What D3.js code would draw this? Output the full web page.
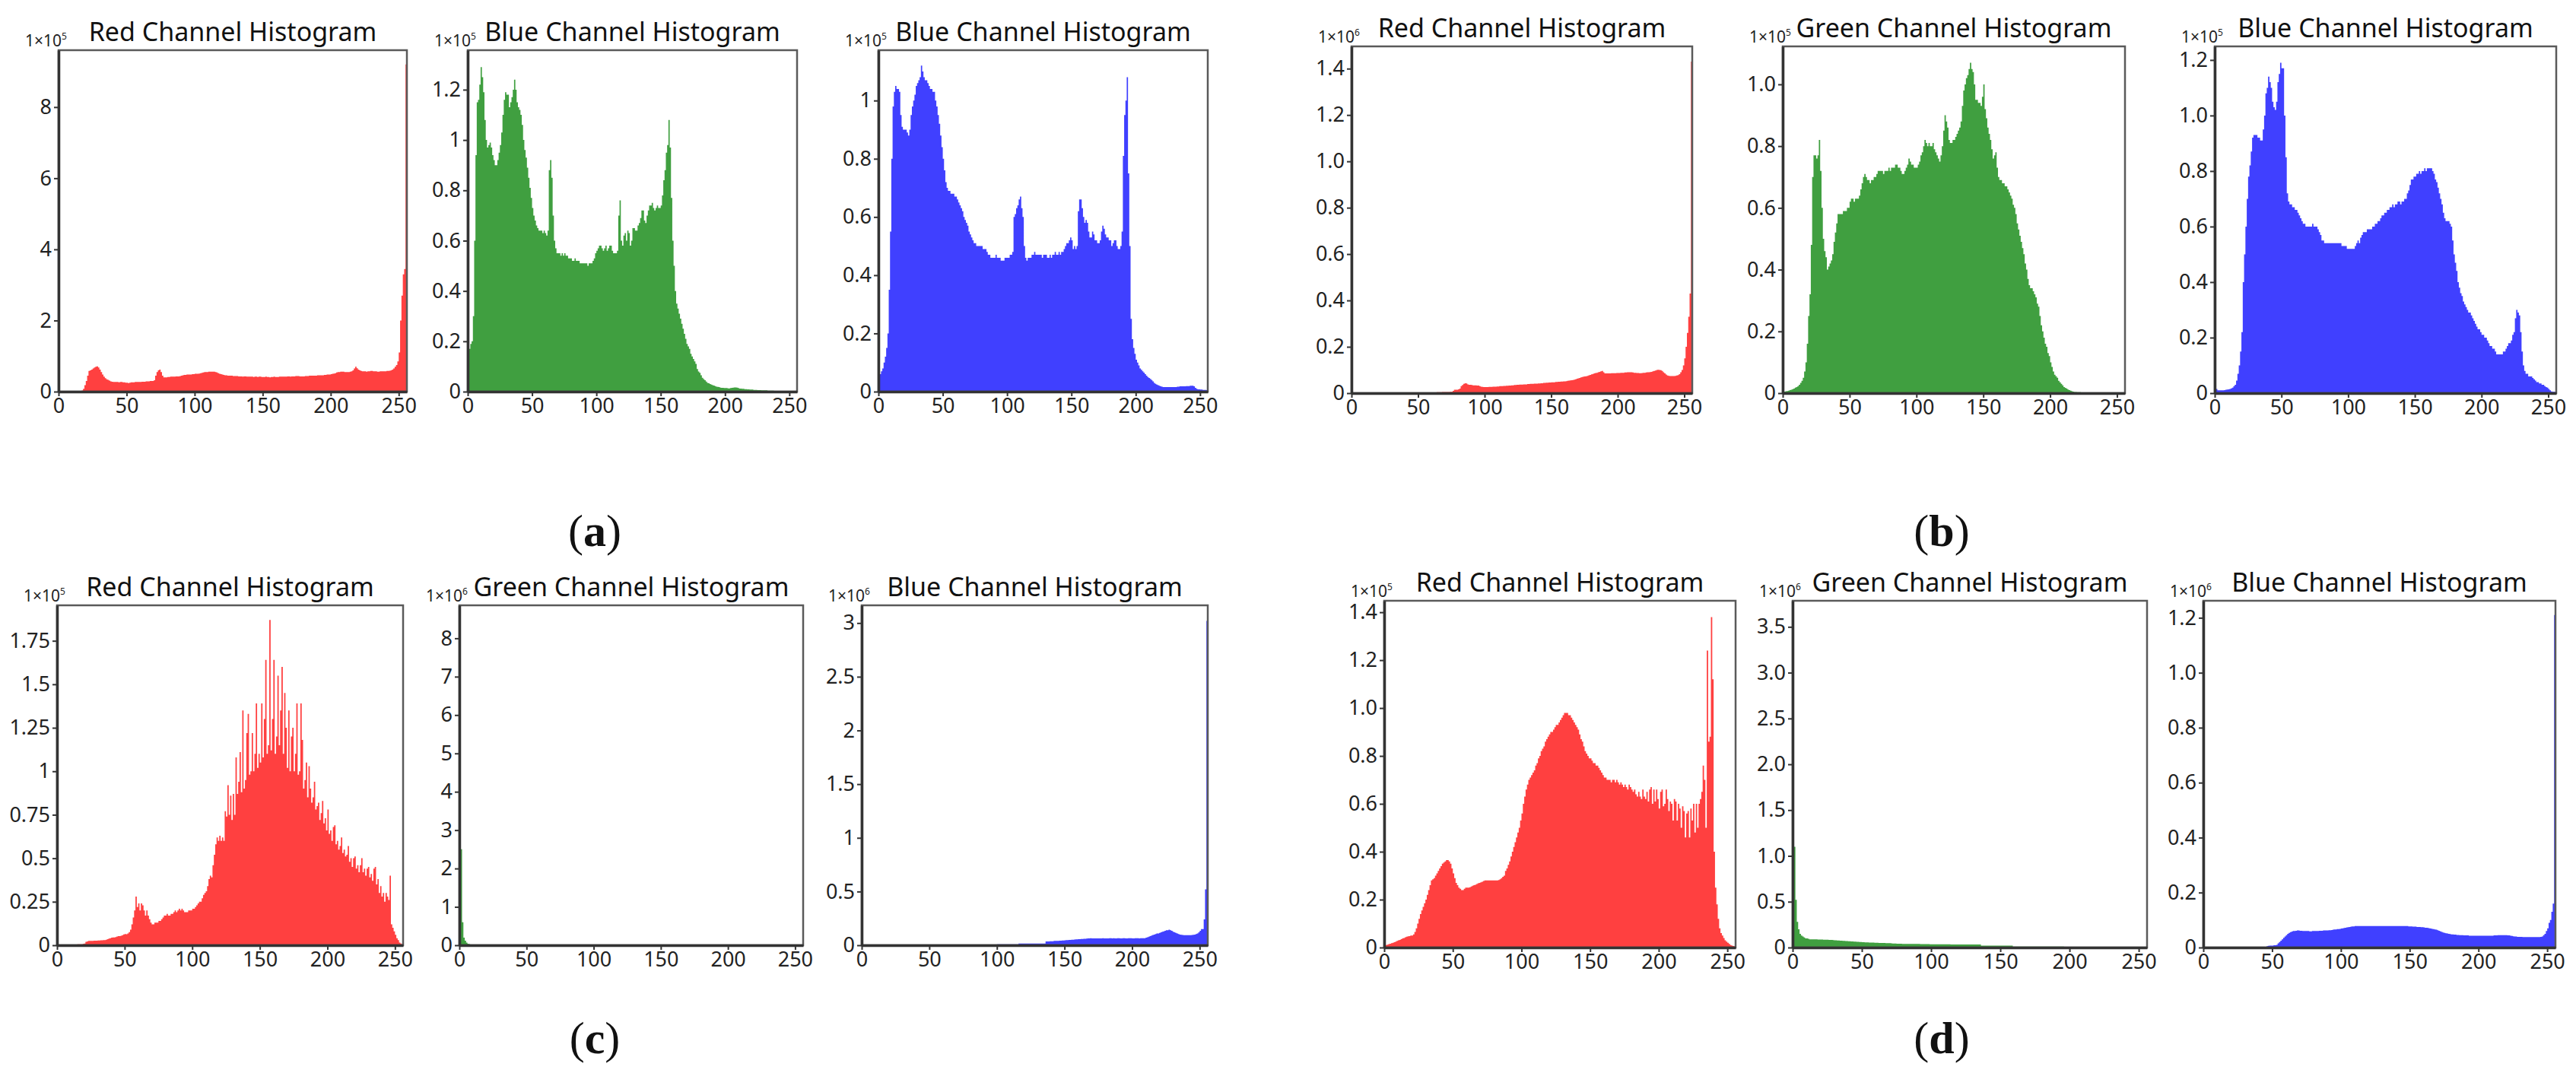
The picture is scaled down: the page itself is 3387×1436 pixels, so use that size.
<!DOCTYPE html>
<html><head><meta charset="utf-8">
<script src="https://cdn.jsdelivr.net/npm/d3@7"></script>
<style>html,body{margin:0;padding:0;background:#fff}</style>
</head><body><svg id="fig" width="3387" height="1436"></svg>
<script>
// ---------- DATA (values in units of each panel's multiplier) ----------
const levels = d3.range(256);
const xTickValues = [0, 50, 100, 150, 200, 250];
const panelTitles = ["Red Channel Histogram","Blue Channel Histogram","Blue Channel Histogram",
  "Red Channel Histogram","Green Channel Histogram","Blue Channel Histogram",
  "Red Channel Histogram","Green Channel Histogram","Blue Channel Histogram",
  "Red Channel Histogram","Green Channel Histogram","Blue Channel Histogram"];
const panelExponents = ["5","5","5","6","5","5","5","6","6","5","6","6"];
const panelChannel = ["red","green","blue","red","green","blue","red","green","blue","red","green","blue"];
const subLabels = ["a","b","c","d"];
const yTickValues = [
  [0,2,4,6,8],
  [0,0.2,0.4,0.6,0.8,1,1.2],
  [0,0.2,0.4,0.6,0.8,1],
  [0,0.2,0.4,0.6,0.8,1.0,1.2,1.4],
  [0,0.2,0.4,0.6,0.8,1.0],
  [0,0.2,0.4,0.6,0.8,1.0,1.2],
  [0,0.25,0.5,0.75,1,1.25,1.5,1.75],
  [0,1,2,3,4,5,6,7,8],
  [0,0.5,1,1.5,2,2.5,3],
  [0,0.2,0.4,0.6,0.8,1.0,1.2,1.4],
  [0,0.5,1.0,1.5,2.0,2.5,3.0,3.5],
  [0,0.2,0.4,0.6,0.8,1.0,1.2]];
const yTickLabels = [
  ["0","2","4","6","8"],
  ["0","0.2","0.4","0.6","0.8","1","1.2"],
  ["0","0.2","0.4","0.6","0.8","1"],
  ["0","0.2","0.4","0.6","0.8","1.0","1.2","1.4"],
  ["0","0.2","0.4","0.6","0.8","1.0"],
  ["0","0.2","0.4","0.6","0.8","1.0","1.2"],
  ["0","0.25","0.5","0.75","1","1.25","1.5","1.75"],
  ["0","1","2","3","4","5","6","7","8"],
  ["0","0.5","1","1.5","2","2.5","3"],
  ["0","0.2","0.4","0.6","0.8","1.0","1.2","1.4"],
  ["0","0.5","1.0","1.5","2.0","2.5","3.0","3.5"],
  ["0","0.2","0.4","0.6","0.8","1.0","1.2"]];
const yDomainMax = [9.6,1.357,1.173,1.496,1.123,1.249,1.954,8.86,3.165,1.448,3.785,1.262];

const aRed = [
0,0,0,0,0,0,0,0,0,0,0,0,0,0,0,0,
0,0.03,0.08,0.18,0.3,0.45,0.58,0.6,0.62,0.65,0.68,0.7,0.71,0.68,0.62,0.55,
0.48,0.42,0.38,0.35,0.33,0.31,0.29,0.28,0.27,0.27,0.27,0.27,0.26,0.27,0.27,0.26,
0.26,0.25,0.25,0.24,0.25,0.26,0.26,0.26,0.27,0.27,0.27,0.27,0.27,0.28,0.28,0.28,
0.29,0.29,0.29,0.3,0.3,0.3,0.32,0.45,0.55,0.6,0.62,0.55,0.45,0.4,0.4,0.4,
0.41,0.41,0.42,0.42,0.42,0.42,0.43,0.43,0.43,0.44,0.45,0.46,0.47,0.47,0.48,0.48,
0.48,0.48,0.49,0.49,0.5,0.5,0.5,0.51,0.52,0.53,0.54,0.55,0.55,0.55,0.56,0.56,
0.56,0.56,0.56,0.55,0.54,0.52,0.5,0.49,0.48,0.47,0.46,0.46,0.45,0.45,0.45,0.45,
0.44,0.44,0.44,0.44,0.43,0.43,0.43,0.42,0.43,0.43,0.42,0.42,0.42,0.42,0.42,0.41,
0.42,0.42,0.41,0.42,0.42,0.41,0.41,0.41,0.42,0.41,0.41,0.4,0.41,0.41,0.42,0.41,
0.41,0.41,0.42,0.42,0.42,0.42,0.42,0.42,0.43,0.43,0.42,0.43,0.43,0.43,0.44,0.44,
0.44,0.43,0.43,0.43,0.43,0.44,0.44,0.44,0.45,0.45,0.45,0.45,0.45,0.45,0.46,0.46,
0.46,0.46,0.46,0.47,0.47,0.48,0.48,0.48,0.49,0.5,0.51,0.52,0.54,0.55,0.55,0.56,
0.56,0.56,0.55,0.55,0.55,0.55,0.56,0.57,0.6,0.65,0.7,0.66,0.62,0.6,0.58,0.57,
0.57,0.57,0.56,0.57,0.57,0.58,0.58,0.57,0.57,0.57,0.56,0.56,0.57,0.57,0.57,0.57,
0.57,0.58,0.58,0.59,0.6,0.62,0.65,0.7,0.75,0.85,1.1,2.0,2.7,3.3,3.45,9.2];

const aGreen = [
0.15,0.17,0.19,0.2,0.3,0.6,0.94,1.15,1.16,1.22,1.29,1.25,1.19,1.08,1.0,0.97,
0.98,0.99,0.97,0.94,0.92,0.9,0.9,0.92,0.95,0.98,1.03,1.1,1.16,1.19,1.18,1.18,
1.13,1.15,1.17,1.2,1.24,1.2,1.15,1.13,1.12,1.1,1.06,1.0,0.96,0.93,0.89,0.85,
0.81,0.77,0.73,0.7,0.68,0.66,0.65,0.64,0.64,0.64,0.63,0.64,0.63,0.62,0.64,0.88,
0.92,0.85,0.7,0.6,0.57,0.55,0.55,0.55,0.54,0.55,0.54,0.55,0.54,0.54,0.53,0.53,
0.53,0.52,0.52,0.53,0.52,0.52,0.52,0.51,0.51,0.51,0.51,0.51,0.51,0.5,0.51,0.51,
0.51,0.52,0.53,0.55,0.56,0.57,0.58,0.58,0.57,0.56,0.57,0.58,0.56,0.57,0.58,0.58,
0.56,0.55,0.55,0.55,0.56,0.7,0.76,0.6,0.58,0.62,0.63,0.6,0.64,0.63,0.58,0.6,
0.65,0.65,0.64,0.64,0.66,0.67,0.69,0.72,0.72,0.68,0.67,0.7,0.72,0.74,0.74,0.75,
0.73,0.72,0.73,0.74,0.73,0.73,0.74,0.78,0.84,0.88,0.95,0.98,1.08,0.97,0.77,0.6,
0.5,0.4,0.35,0.33,0.31,0.29,0.27,0.25,0.23,0.21,0.19,0.18,0.17,0.15,0.14,0.13,
0.12,0.11,0.09,0.08,0.075,0.065,0.055,0.05,0.045,0.04,0.035,0.033,0.03,0.028,0.026,0.024,
0.022,0.02,0.019,0.018,0.016,0.015,0.015,0.014,0.014,0.014,0.013,0.013,0.014,0.015,0.016,0.017,
0.017,0.016,0.014,0.012,0.012,0.011,0.011,0.01,0.01,0.009,0.009,0.008,0.008,0.008,0.007,0.007,
0.007,0.006,0.006,0.006,0.005,0.005,0.005,0.005,0.005,0.004,0.004,0.004,0.004,0.004,0.003,0.003,
0.003,0.003,0.003,0.003,0.002,0.002,0.002,0.002,0.002,0.002,0.002,0.002,0.001,0.001,0.001,0.001];

const aBlue = [
0.05,0.06,0.07,0.08,0.1,0.12,0.15,0.2,0.35,0.55,0.8,0.98,1.03,1.05,1.04,1.04,
1.03,0.95,0.91,0.9,0.9,0.9,0.89,0.88,0.9,0.95,0.98,1.0,1.02,1.05,1.06,1.07,
1.08,1.12,1.1,1.08,1.07,1.07,1.06,1.05,1.04,1.04,1.03,1.03,1.0,0.98,0.95,0.92,
0.88,0.84,0.8,0.76,0.72,0.7,0.69,0.69,0.68,0.68,0.68,0.67,0.67,0.66,0.65,0.64,
0.63,0.62,0.6,0.59,0.58,0.57,0.55,0.54,0.53,0.52,0.51,0.51,0.5,0.5,0.5,0.5,
0.5,0.49,0.49,0.49,0.48,0.47,0.47,0.46,0.46,0.46,0.46,0.47,0.46,0.46,0.46,0.45,
0.45,0.45,0.46,0.46,0.46,0.46,0.47,0.47,0.48,0.6,0.61,0.63,0.64,0.66,0.67,0.63,
0.6,0.5,0.46,0.45,0.46,0.46,0.46,0.47,0.47,0.48,0.47,0.47,0.47,0.47,0.47,0.46,
0.47,0.47,0.47,0.46,0.46,0.47,0.46,0.47,0.47,0.48,0.47,0.47,0.48,0.47,0.48,0.48,
0.49,0.5,0.51,0.51,0.52,0.53,0.52,0.49,0.5,0.49,0.5,0.62,0.66,0.66,0.63,0.6,
0.58,0.59,0.58,0.55,0.53,0.53,0.55,0.54,0.52,0.52,0.51,0.51,0.52,0.55,0.57,0.56,
0.54,0.53,0.53,0.52,0.52,0.5,0.51,0.52,0.52,0.5,0.49,0.49,0.5,0.55,0.81,0.95,
1.0,1.08,0.75,0.5,0.25,0.18,0.15,0.13,0.11,0.1,0.09,0.08,0.075,0.07,0.065,0.06,
0.055,0.05,0.047,0.044,0.04,0.035,0.03,0.027,0.024,0.022,0.02,0.018,0.017,0.016,0.016,0.016,
0.016,0.016,0.016,0.016,0.016,0.016,0.016,0.016,0.017,0.017,0.018,0.018,0.018,0.018,0.018,0.019,
0.019,0.019,0.02,0.02,0.02,0.018,0.013,0.01,0.008,0.008,0.007,0.007,0.006,0.006,0.006,0.005];

const bRed = [
0,0,0,0,0,0,0,0,0,0,0,0,0,0,0,0,
0,0,0,0,0,0,0,0,0,0,0,0,0,0,0,0,
0,0,0,0,0,0,0,0,0,0,0,0,0,0,0,0,
0,0,0,0,0,0,0,0,0,0,0,0,0,0,0,0,
0.004,0.004,0.004,0.004,0.005,0.005,0.005,0.005,0.005,0.005,0.006,0.006,0.01,0.015,0.015,0.015,
0.016,0.02,0.03,0.035,0.04,0.043,0.042,0.038,0.036,0.036,0.035,0.034,0.034,0.034,0.033,0.033,
0.03,0.028,0.027,0.026,0.026,0.026,0.026,0.027,0.027,0.027,0.028,0.028,0.028,0.029,0.029,0.03,
0.03,0.03,0.031,0.031,0.032,0.032,0.033,0.033,0.034,0.034,0.035,0.035,0.036,0.036,0.037,0.037,
0.037,0.038,0.038,0.038,0.039,0.039,0.04,0.04,0.04,0.041,0.041,0.041,0.042,0.042,0.043,0.043,
0.044,0.044,0.045,0.045,0.046,0.046,0.047,0.047,0.047,0.048,0.048,0.049,0.049,0.05,0.05,0.051,
0.051,0.052,0.053,0.054,0.055,0.056,0.057,0.058,0.06,0.062,0.064,0.066,0.068,0.07,0.071,0.072,
0.073,0.075,0.077,0.079,0.081,0.083,0.085,0.087,0.088,0.09,0.092,0.094,0.096,0.09,0.085,0.085,
0.085,0.085,0.085,0.086,0.086,0.086,0.086,0.087,0.087,0.087,0.088,0.088,0.088,0.089,0.089,0.09,
0.09,0.09,0.09,0.089,0.088,0.088,0.087,0.087,0.086,0.086,0.087,0.088,0.088,0.089,0.09,0.09,
0.091,0.092,0.094,0.096,0.098,0.1,0.101,0.1,0.099,0.096,0.09,0.085,0.08,0.076,0.075,0.074,
0.074,0.074,0.074,0.075,0.076,0.078,0.082,0.09,0.1,0.12,0.15,0.2,0.26,0.33,0.43,1.43];

const bGreen = [
0.004,0.005,0.006,0.007,0.008,0.01,0.011,0.013,0.015,0.018,0.02,0.023,0.027,0.033,0.04,0.05,
0.07,0.1,0.16,0.25,0.32,0.48,0.7,0.77,0.77,0.76,0.77,0.82,0.72,0.6,0.5,0.46,
0.44,0.4,0.41,0.42,0.43,0.45,0.49,0.52,0.55,0.58,0.58,0.58,0.58,0.59,0.59,0.59,
0.6,0.6,0.62,0.63,0.63,0.62,0.63,0.63,0.63,0.64,0.66,0.68,0.7,0.71,0.7,0.69,
0.69,0.68,0.69,0.69,0.7,0.7,0.71,0.72,0.72,0.72,0.72,0.71,0.72,0.72,0.72,0.73,
0.72,0.73,0.73,0.73,0.74,0.74,0.73,0.73,0.72,0.71,0.71,0.72,0.73,0.74,0.76,0.75,
0.74,0.74,0.73,0.73,0.73,0.74,0.75,0.77,0.78,0.8,0.82,0.81,0.8,0.81,0.8,0.8,
0.81,0.79,0.78,0.77,0.76,0.75,0.77,0.8,0.85,0.9,0.88,0.86,0.82,0.81,0.81,0.82,
0.82,0.83,0.84,0.85,0.86,0.88,0.93,0.98,1.0,1.02,1.03,1.05,1.07,1.05,1.04,1.0,
0.95,0.95,0.94,0.94,0.93,0.96,1.0,0.92,0.89,0.86,0.84,0.82,0.79,0.76,0.77,0.78,
0.73,0.7,0.69,0.69,0.68,0.68,0.67,0.67,0.66,0.65,0.64,0.63,0.61,0.6,0.58,0.55,
0.53,0.51,0.49,0.47,0.45,0.42,0.4,0.37,0.35,0.34,0.34,0.33,0.32,0.31,0.29,0.28,
0.25,0.22,0.2,0.18,0.16,0.15,0.13,0.12,0.1,0.085,0.07,0.06,0.055,0.05,0.04,0.035,
0.03,0.025,0.02,0.017,0.015,0.012,0.01,0.008,0.006,0.005,0.004,0.004,0.003,0.003,0.003,0.002,
0.002,0.002,0.002,0.002,0.002,0.002,0.002,0.002,0.002,0.002,0.002,0.002,0.001,0.001,0.001,0,
0,0,0,0,0,0,0,0,0,0,0,0,0,0,0,0];

const bBlue = [
0.02,0.015,0.01,0.01,0.01,0.01,0.01,0.011,0.012,0.013,0.014,0.015,0.017,0.02,0.025,0.03,
0.045,0.07,0.1,0.15,0.22,0.4,0.5,0.6,0.7,0.78,0.82,0.87,0.92,0.93,0.93,0.93,
0.92,0.92,0.91,0.91,0.95,1.0,1.08,1.1,1.14,1.12,1.1,1.05,1.03,1.02,1.05,1.12,
1.15,1.19,1.17,1.17,1.0,0.85,0.72,0.69,0.68,0.68,0.67,0.67,0.66,0.66,0.65,0.64,
0.63,0.62,0.61,0.61,0.6,0.6,0.6,0.6,0.6,0.61,0.6,0.6,0.6,0.59,0.58,0.57,
0.55,0.55,0.54,0.54,0.54,0.54,0.54,0.54,0.54,0.54,0.54,0.54,0.54,0.54,0.54,0.53,
0.53,0.53,0.53,0.52,0.52,0.52,0.52,0.52,0.52,0.53,0.54,0.55,0.54,0.56,0.57,0.58,
0.58,0.58,0.59,0.59,0.59,0.59,0.6,0.6,0.61,0.61,0.62,0.62,0.63,0.64,0.64,0.65,
0.65,0.66,0.66,0.67,0.67,0.68,0.67,0.68,0.68,0.69,0.69,0.68,0.69,0.69,0.7,0.7,
0.72,0.73,0.75,0.77,0.77,0.78,0.78,0.79,0.79,0.8,0.79,0.8,0.8,0.81,0.8,0.81,
0.81,0.81,0.81,0.8,0.79,0.77,0.76,0.74,0.72,0.7,0.68,0.65,0.63,0.62,0.62,0.62,
0.61,0.6,0.55,0.5,0.47,0.44,0.4,0.38,0.36,0.35,0.33,0.32,0.31,0.3,0.29,0.29,
0.28,0.27,0.26,0.25,0.24,0.23,0.23,0.22,0.21,0.21,0.2,0.2,0.19,0.18,0.17,0.17,
0.16,0.16,0.15,0.14,0.14,0.14,0.14,0.14,0.15,0.15,0.16,0.17,0.18,0.18,0.19,0.21,
0.22,0.27,0.3,0.29,0.28,0.22,0.15,0.1,0.08,0.07,0.07,0.06,0.06,0.06,0.055,0.05,
0.045,0.04,0.04,0.035,0.035,0.03,0.03,0.025,0.022,0.02,0.015,0.01,0.006,0.005,0.005,0.004];

const cRed = [
0,0,0,0,0,0,0,0,0,0,0,0,0,0,0,0.005,
0.005,0.005,0.006,0.008,0.01,0.02,0.022,0.025,0.025,0.025,0.025,0.026,0.026,0.026,0.027,0.027,
0.028,0.028,0.03,0.03,0.032,0.035,0.038,0.04,0.044,0.045,0.045,0.047,0.05,0.052,0.053,0.055,
0.058,0.062,0.065,0.063,0.068,0.075,0.09,0.12,0.16,0.2,0.28,0.22,0.24,0.2,0.24,0.23,
0.2,0.17,0.2,0.17,0.15,0.13,0.12,0.12,0.13,0.13,0.13,0.14,0.14,0.15,0.16,0.17,
0.17,0.18,0.17,0.17,0.18,0.18,0.19,0.2,0.19,0.2,0.21,0.2,0.21,0.2,0.19,0.19,
0.19,0.2,0.2,0.2,0.21,0.21,0.22,0.23,0.24,0.25,0.25,0.27,0.29,0.3,0.31,0.34,
0.38,0.4,0.39,0.46,0.52,0.58,0.62,0.6,0.63,0.6,0.62,0.6,0.77,0.74,0.92,0.75,
0.86,0.72,0.87,0.75,1.08,0.87,0.94,1.11,0.88,1.35,0.9,0.95,1.22,1.33,0.98,1.0,
1.22,1.0,1.1,1.39,1.02,1.1,1.05,1.39,1.08,1.3,1.64,1.1,1.15,1.87,1.12,1.3,
1.64,1.1,1.2,1.55,1.15,1.35,1.6,1.1,1.45,1.25,1.02,1.35,1.0,1.2,1.25,1.0,
1.1,1.39,0.98,1.0,1.39,1.18,0.9,0.95,1.05,0.85,1.03,0.9,0.82,0.85,0.94,0.78,
0.8,0.82,0.72,0.76,0.83,0.7,0.73,0.66,0.78,0.64,0.66,0.6,0.68,0.69,0.58,0.6,
0.55,0.57,0.62,0.53,0.55,0.51,0.52,0.57,0.48,0.5,0.45,0.5,0.51,0.44,0.46,0.42,
0.46,0.5,0.42,0.44,0.4,0.44,0.45,0.39,0.41,0.37,0.44,0.45,0.35,0.38,0.3,0.34,
0.28,0.3,0.25,0.3,0.28,0.26,0.4,0.12,0.1,0.08,0.06,0.04,0.03,0.015,0.01,0.005];

const cGreen = [
8.48,2.5,0.6,0.2,0.12,0.07,0.04,0.03,0.02,0.015,0.012,0.01,0.01,0.009,0.009,0.009,
0.008,0.008,0.008,0.008,0.008,0.008,0.008,0.008,0.008,0.008,0.008,0.008,0.008,0.008,0.008,0.008,
0.008,0.008,0.008,0.008,0.008,0.008,0.008,0.008,0.008,0.008,0.008,0.008,0.008,0.008,0.008,0.008,
0.008,0.008,0.008,0.008,0.008,0.008,0.008,0.008,0.008,0.008,0.008,0.008,0.008,0.008,0.008,0.008,
0.008,0.008,0.008,0.008,0.008,0.008,0.008,0.008,0.008,0.008,0.008,0.008,0.008,0.002,0.002,0.002,
0.002,0.002,0.002,0.002,0.002,0.002,0.002,0.002,0.002,0.002,0.002,0.002,0.002,0.002,0.002,0.002,
0.002,0.002,0.002,0.002,0.006,0.006,0.006,0.006,0.006,0.006,0.006,0.006,0.006,0.006,0.006,0.006,
0.006,0.006,0,0,0,0,0,0,0,0,0,0,0,0,0,0,
0,0,0,0,0,0,0,0,0,0,0,0,0,0,0,0,
0,0,0,0,0,0,0,0,0,0,0,0,0,0,0,0,
0,0,0,0,0,0,0,0,0,0,0,0,0,0,0,0,
0,0,0,0,0,0,0,0,0,0,0,0,0,0,0,0,
0,0,0,0,0,0,0,0,0,0,0,0,0,0,0,0,
0,0,0,0,0,0,0,0,0,0,0,0,0,0,0,0,
0,0,0,0,0,0,0,0,0,0,0,0,0,0,0,0,
0,0,0,0,0,0,0,0,0,0,0,0,0,0,0,0];

const cBlue = [
0,0,0,0,0,0,0,0,0,0,0,0,0,0,0,0,
0,0,0,0,0,0,0,0,0,0,0,0,0,0,0,0,
0,0,0,0,0,0,0,0,0,0,0,0,0,0,0,0,
0,0,0,0,0,0,0,0,0,0,0,0,0,0,0,0,
0,0,0,0,0,0,0,0,0,0,0,0,0,0,0,0,
0,0,0,0,0,0,0,0,0,0,0,0,0,0,0,0,
0,0,0,0,0.008,0.008,0.008,0.008,0.008,0.008,0.008,0.008,0.008,0.008,0.008,0.008,
0.008,0.008,0.008,0.008,0.016,0.016,0.016,0.016,0.016,0.016,0.016,0.016,0.016,0.016,0.016,0.016,
0.016,0.016,0.016,0.016,0.016,0.016,0.016,0.016,0.035,0.035,0.036,0.037,0.038,0.038,0.04,0.04,
0.04,0.041,0.042,0.043,0.044,0.045,0.046,0.047,0.048,0.049,0.05,0.051,0.052,0.053,0.054,0.055,
0.056,0.057,0.058,0.059,0.06,0.061,0.062,0.063,0.064,0.065,0.063,0.063,0.064,0.064,0.063,0.064,
0.064,0.064,0.065,0.064,0.063,0.064,0.064,0.065,0.065,0.064,0.065,0.064,0.064,0.065,0.065,0.064,
0.064,0.065,0.065,0.064,0.064,0.065,0.065,0.065,0.064,0.064,0.065,0.065,0.065,0.064,0.065,0.065,
0.065,0.066,0.07,0.075,0.08,0.085,0.09,0.095,0.1,0.105,0.11,0.11,0.115,0.12,0.125,0.13,
0.135,0.14,0.14,0.145,0.14,0.135,0.125,0.12,0.115,0.11,0.105,0.1,0.098,0.095,0.094,0.094,
0.093,0.093,0.093,0.094,0.095,0.097,0.1,0.105,0.11,0.12,0.135,0.15,0.15,0.24,0.52,3.02];

const dRed = [
0.005,0.01,0.012,0.014,0.016,0.018,0.02,0.022,0.025,0.028,0.03,0.032,0.035,0.038,0.04,0.043,
0.045,0.047,0.048,0.05,0.05,0.055,0.065,0.08,0.1,0.12,0.14,0.155,0.17,0.185,0.2,0.22,
0.24,0.26,0.28,0.285,0.29,0.3,0.31,0.32,0.33,0.34,0.35,0.355,0.36,0.365,0.365,0.36,
0.35,0.33,0.31,0.29,0.27,0.26,0.25,0.245,0.24,0.24,0.245,0.25,0.25,0.25,0.252,0.255,
0.258,0.26,0.262,0.265,0.268,0.27,0.272,0.275,0.278,0.28,0.28,0.28,0.28,0.28,0.28,0.28,
0.28,0.28,0.28,0.282,0.285,0.29,0.295,0.3,0.32,0.33,0.345,0.36,0.38,0.4,0.42,0.44,
0.46,0.48,0.5,0.53,0.56,0.6,0.63,0.66,0.68,0.7,0.71,0.72,0.73,0.74,0.76,0.77,
0.79,0.8,0.82,0.83,0.84,0.86,0.87,0.88,0.89,0.9,0.9,0.91,0.92,0.93,0.93,0.94,
0.95,0.96,0.97,0.98,0.98,0.98,0.97,0.97,0.96,0.95,0.94,0.93,0.92,0.91,0.89,0.87,
0.86,0.84,0.82,0.81,0.8,0.79,0.79,0.78,0.77,0.77,0.76,0.76,0.75,0.74,0.73,0.72,
0.71,0.71,0.7,0.7,0.7,0.69,0.7,0.7,0.69,0.7,0.69,0.68,0.69,0.68,0.67,0.68,
0.67,0.66,0.68,0.67,0.66,0.65,0.66,0.64,0.63,0.65,0.63,0.62,0.66,0.63,0.62,0.65,
0.61,0.66,0.67,0.6,0.66,0.61,0.66,0.62,0.58,0.65,0.66,0.59,0.6,0.66,0.62,0.57,
0.61,0.6,0.53,0.62,0.61,0.53,0.6,0.58,0.5,0.59,0.57,0.46,0.56,0.57,0.46,0.58,
0.53,0.6,0.48,0.6,0.5,0.6,0.62,0.65,0.76,0.7,0.5,1.24,0.86,0.88,1.38,1.12,
0.4,0.25,0.18,0.12,0.08,0.06,0.05,0.04,0.03,0.025,0.02,0.015,0.01,0.008,0.006,0.005];

const dGreen = [
3.61,1.1,0.52,0.28,0.2,0.15,0.13,0.12,0.11,0.1,0.1,0.095,0.09,0.09,0.09,0.09,
0.09,0.09,0.088,0.088,0.087,0.087,0.086,0.086,0.085,0.085,0.084,0.083,0.082,0.08,0.079,0.078,
0.077,0.076,0.075,0.074,0.073,0.072,0.071,0.07,0.069,0.068,0.067,0.066,0.065,0.064,0.063,0.062,
0.061,0.06,0.059,0.058,0.057,0.056,0.055,0.054,0.054,0.053,0.053,0.052,0.052,0.051,0.05,0.05,
0.05,0.049,0.049,0.048,0.048,0.047,0.047,0.045,0.044,0.043,0.043,0.042,0.042,0.041,0.041,0.04,
0.04,0.04,0.04,0.04,0.039,0.039,0.039,0.039,0.04,0.04,0.039,0.039,0.038,0.038,0.038,0.038,
0.037,0.037,0.037,0.036,0.036,0.036,0.036,0.035,0.035,0.035,0.035,0.035,0.035,0.035,0.035,0.035,
0.035,0.035,0.034,0.034,0.034,0.034,0.034,0.034,0.034,0.034,0.034,0.033,0.033,0.033,0.033,0.033,
0.033,0.033,0.033,0.033,0.033,0.033,0.033,0.033,0.02,0.02,0.02,0.02,0.02,0.02,0.02,0.02,
0.02,0.02,0.02,0.02,0.02,0.02,0.02,0.02,0.02,0.02,0.02,0.02,0.02,0.02,0.02,0.01,
0.01,0.01,0.01,0.01,0.01,0.01,0.01,0.01,0.01,0.01,0.01,0.01,0.01,0.01,0.01,0.01,
0.01,0.01,0.01,0.01,0.01,0.01,0.01,0.01,0.01,0.01,0.01,0.01,0.01,0.01,0.01,0.01,
0.01,0.01,0.01,0.01,0,0,0,0,0,0,0,0,0,0,0,0,
0,0,0,0,0,0,0,0,0,0,0,0,0,0,0,0,
0,0,0,0,0,0,0,0,0,0,0,0,0,0,0,0,
0,0,0,0,0,0,0,0,0,0,0,0,0,0,0,0];

const dBlue = [
0,0,0,0,0,0,0,0,0,0,0,0,0,0,0,0,
0,0,0,0,0,0,0,0,0,0,0,0,0,0,0,0,
0,0,0,0,0,0,0,0.003,0.003,0.003,0.003,0.003,0.003,0.003,0.005,0.006,
0.007,0.007,0.007,0.008,0.008,0.01,0.015,0.02,0.025,0.03,0.035,0.04,0.045,0.05,0.053,0.056,
0.058,0.06,0.06,0.061,0.062,0.062,0.061,0.061,0.06,0.06,0.06,0.06,0.06,0.059,0.059,0.06,
0.06,0.06,0.06,0.06,0.061,0.061,0.061,0.062,0.062,0.062,0.062,0.063,0.063,0.064,0.065,0.066,
0.066,0.067,0.067,0.068,0.069,0.07,0.071,0.072,0.073,0.074,0.075,0.076,0.077,0.077,0.078,0.078,
0.078,0.078,0.078,0.078,0.078,0.078,0.078,0.078,0.078,0.078,0.078,0.078,0.078,0.078,0.078,0.078,
0.078,0.078,0.078,0.078,0.078,0.078,0.078,0.078,0.078,0.078,0.078,0.078,0.078,0.078,0.078,0.078,
0.078,0.078,0.078,0.078,0.078,0.077,0.077,0.077,0.076,0.076,0.076,0.075,0.075,0.075,0.074,0.074,
0.073,0.072,0.072,0.071,0.07,0.069,0.068,0.067,0.066,0.065,0.063,0.061,0.059,0.057,0.055,0.053,
0.052,0.051,0.05,0.049,0.048,0.048,0.047,0.047,0.046,0.046,0.045,0.045,0.045,0.044,0.044,0.044,
0.044,0.043,0.043,0.043,0.043,0.043,0.043,0.043,0.043,0.043,0.043,0.043,0.043,0.043,0.043,0.043,
0.043,0.043,0.043,0.044,0.044,0.044,0.045,0.045,0.045,0.045,0.045,0.045,0.045,0.044,0.044,0.043,
0.042,0.041,0.04,0.04,0.039,0.039,0.039,0.039,0.038,0.038,0.038,0.038,0.038,0.038,0.038,0.038,
0.038,0.038,0.038,0.038,0.038,0.039,0.04,0.045,0.05,0.06,0.07,0.09,0.1,0.13,0.16,1.21];

const panelData = [aRed, aGreen, aBlue, bRed, bGreen, bBlue, cRed, cGreen, cBlue, dRed, dGreen, dBlue];

// ---------- LAYOUT & STYLE ----------
const boxes = [
  {l:77,  r:535,  t:66,  b:515}, {l:615, r:1048, t:66,  b:515}, {l:1155, r:1588, t:66,  b:515},
  {l:1777,r:2225, t:61,  b:517}, {l:2344,r:2794, t:61,  b:517}, {l:2912, r:3361, t:61,  b:517},
  {l:75,  r:530,  t:796, b:1243},{l:604, r:1056, t:796, b:1243},{l:1133, r:1588, t:796, b:1243},
  {l:1820,r:2282, t:790, b:1246},{l:2357,r:2823, t:790, b:1246},{l:2897, r:3360, t:790, b:1246}];
const subLabelPos = [{x:782,y:698},{x:2553,y:698},{x:782,y:1365},{x:2553,y:1365}];
const fillColor = {red:"#ff4040", green:"#409f40", blue:"#4040ff"};
const FONT = "'Noto Sans', 'Open Sans', sans-serif";

const svg = d3.select("#fig");
svg.append("rect").attr("width",3387).attr("height",1436).attr("fill","#fff");

panelData.forEach((vals, p) => {
  const bx = boxes[p];
  const x = d3.scaleLinear().domain([0, 256]).range([bx.l, bx.r]);
  const y = d3.scaleLinear().domain([0, yDomainMax[p]]).range([bx.b, bx.t]);
  const g = svg.append("g");

  const clipId = "clip" + p;
  g.append("clipPath").attr("id", clipId).append("rect")
    .attr("x", bx.l).attr("y", bx.t).attr("width", bx.r - bx.l).attr("height", bx.b - bx.t);

  const pts = levels.map(i => [i, vals[i]]);
  pts.push([256, vals[255]]);
  const area = d3.area().curve(d3.curveStepAfter)
    .x(d => x(d[0])).y0(y(0)).y1(d => y(d[1]));
  g.append("path").attr("d", area(pts)).attr("fill", fillColor[panelChannel[p]])
    .attr("clip-path", `url(#${clipId})`);

  // frame
  g.append("rect").attr("x", bx.l).attr("y", bx.t).attr("width", bx.r - bx.l).attr("height", bx.b - bx.t)
    .attr("fill","none").attr("stroke","#5a5a5a").attr("stroke-width",2.5);

  const yAxis = d3.axisLeft(y).tickValues(yTickValues[p])
    .tickFormat((d,i) => yTickLabels[p][i]).tickSize(6).tickSizeOuter(0).tickPadding(3);
  const ya = g.append("g").attr("transform", `translate(${bx.l},0)`).call(yAxis);
  const xAxis = d3.axisBottom(x).tickValues(xTickValues).tickSize(6).tickSizeOuter(0).tickPadding(3);
  const xa = g.append("g").attr("transform", `translate(0,${bx.b})`).call(xAxis);
  [ya, xa].forEach(a => {
    a.select(".domain").attr("stroke","#333").attr("stroke-width",3.5);
    a.selectAll(".tick line").attr("stroke","#333").attr("stroke-width",2);
    a.selectAll(".tick text").attr("font-family", FONT).attr("font-size", 27).attr("fill","#222");
  });

  // title
  g.append("text").attr("x", (bx.l + bx.r) / 2).attr("y", bx.t - 12)
    .attr("text-anchor","middle").attr("font-family", FONT).attr("font-size", 34)
    .attr("fill","#111").text(panelTitles[p]);

  // multiplier 1×10^n
  const m = g.append("text").attr("x", bx.l - 44).attr("y", bx.t - 5)
    .attr("font-family", FONT).attr("font-size", 21).attr("fill","#222");
  m.append("tspan").text("1×10");
  m.append("tspan").attr("dy", -9).attr("font-size", 12).text(panelExponents[p]);
});

subLabels.forEach((s, i) => {
  const t = svg.append("text").attr("x", subLabelPos[i].x).attr("y", subLabelPos[i].y)
    .attr("text-anchor","middle").attr("dominant-baseline","central")
    .attr("font-family","'Liberation Serif', 'DejaVu Serif', serif").attr("font-size", 60).attr("fill","#111");
  t.append("tspan").text("(");
  t.append("tspan").attr("font-weight","bold").text(s);
  t.append("tspan").text(")");
});
</script>
</body></html>
